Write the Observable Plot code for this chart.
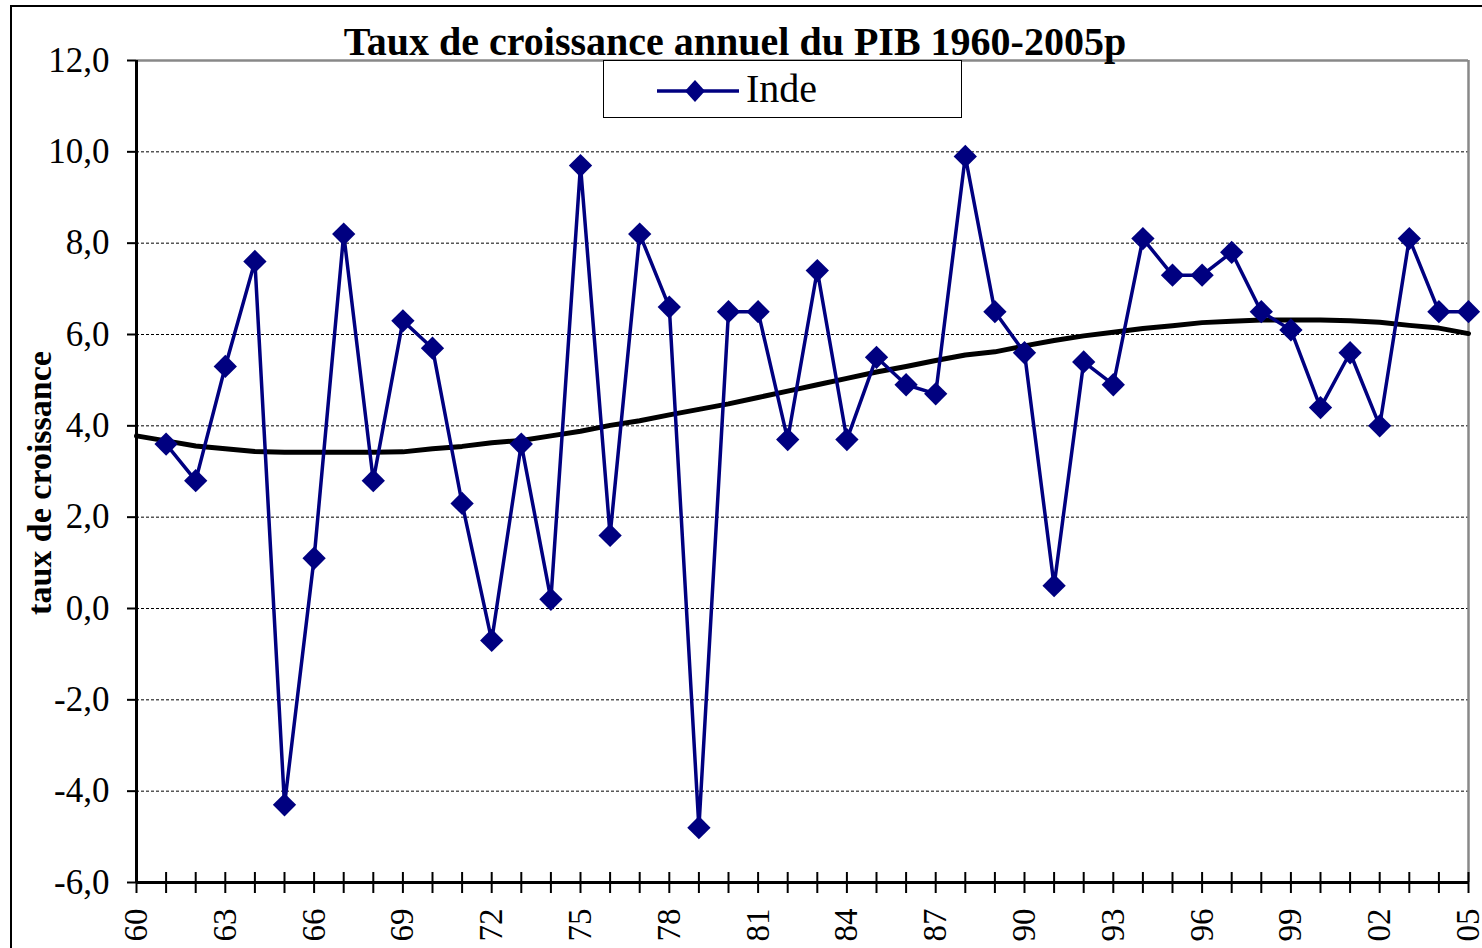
<!DOCTYPE html>
<html><head><meta charset="utf-8">
<script src="https://cdn.jsdelivr.net/npm/d3@7"></script>
<script src="https://cdn.jsdelivr.net/npm/@observablehq/plot@0.6"></script>
<style>
html,body{margin:0;padding:0;background:#fff;overflow:hidden}
#wrap{position:relative;width:1482px;height:948px}
#frame{position:absolute;left:10px;top:5px;width:1480px;height:960px;border:2px solid #000;box-sizing:border-box}
#title{position:absolute;left:0;width:1470px;text-align:center;top:18px;line-height:46px;font:bold 40px "Liberation Serif",serif;color:#000}
#legend{position:absolute;left:603px;top:60px;width:359px;height:58px;border:1.5px solid #000;box-sizing:border-box;background:#fff}
#legend svg{position:absolute;left:50px;top:15px}
#legend span{position:absolute;left:142px;top:4px;line-height:46px;font:40px "Liberation Serif",serif}
#ylab{position:absolute;left:40px;top:483px;transform:translate(-50%,-50%) rotate(-90deg);font:bold 34px "Liberation Serif",serif;white-space:nowrap}
#plot{position:absolute;left:0;top:0}
</style></head>
<body><div id="wrap"><div id="frame"></div><div id="plot"></div>
<div id="title">Taux de croissance annuel du PIB 1960-2005p</div>
<div id="legend"><svg width="90" height="30"><line x1="3" y1="15" x2="85" y2="15" stroke="#000080" stroke-width="3.5"/><path d="M41,4L51,15L41,26L31,15Z" fill="#000080"/></svg><span>Inde</span></div>
<div id="ylab">taux de croissance</div>
</div>
<script>
const years = d3.range(1960, 2006);
const indeYears = d3.range(1961, 2006);
const inde = [3.6, 2.8, 5.3, 7.6, -4.3, 1.1, 8.2, 2.8, 6.3, 5.7, 2.3, -0.7, 3.6, 0.2, 9.7, 1.6, 8.2, 6.6, -4.8, 6.5, 6.5, 3.7, 7.4, 3.7, 5.5, 4.9, 4.7, 9.9, 6.5, 5.6, 0.5, 5.4, 4.9, 8.1, 7.3, 7.3, 7.8, 6.5, 6.1, 4.4, 5.6, 4.0, 8.1, 6.5, 6.5];
const tendance = [3.78, 3.67, 3.56, 3.5, 3.44, 3.42, 3.42, 3.42, 3.42, 3.43, 3.5, 3.55, 3.63, 3.68, 3.78, 3.88, 4.01, 4.11, 4.24, 4.36, 4.48, 4.62, 4.76, 4.9, 5.04, 5.18, 5.3, 5.43, 5.55, 5.62, 5.75, 5.87, 5.97, 6.05, 6.13, 6.19, 6.26, 6.29, 6.32, 6.32, 6.32, 6.3, 6.27, 6.2, 6.14, 6.02];
const yTicks = [-6, -4, -2, 0, 2, 4, 6, 8, 10, 12];
const xLabelYears = [1960, 1963, 1966, 1969, 1972, 1975, 1978, 1981, 1984, 1987, 1990, 1993, 1996, 1999, 2002, 2005];

const indeData = indeYears.map((y, i) => ({year: y, value: inde[i]}));
const trendData = years.map((y, i) => ({year: y, value: tendance[i]}));
const fmt = d => d.toFixed(1).replace(".", ",");

const chart = Plot.plot({
  width: 1482, height: 948,
  marginLeft: 136, marginRight: 14, marginTop: 60, marginBottom: 66,
  x: {domain: [1960, 2005]},
  y: {domain: [-6, 12]},
  style: {fontFamily: "Liberation Serif, serif", fontSize: "33px", color: "#000", background: "transparent"},
  marks: [
    Plot.ruleY(yTicks.filter(t => t > -6 && t < 12), {stroke: "#000", strokeWidth: 1, strokeDasharray: "3,2"}),
    Plot.ruleY([12], {stroke: "#888", strokeWidth: 2.5}),
    Plot.ruleX([2005], {stroke: "#888", strokeWidth: 2.5}),
    Plot.axisY({ticks: yTicks, tickFormat: fmt, tickSize: 9, tickPadding: 18, fontSize: 35, label: null, strokeWidth: 2}),
    Plot.axisX({ticks: years, tickFormat: () => "", tickSize: 21, dy: -10, label: null, strokeWidth: 2}),
    Plot.axisX({ticks: xLabelYears, tickFormat: d => String(d).slice(2), tickSize: 0, tickPadding: 26, tickRotate: -90, label: null}),
    Plot.ruleX([1960], {stroke: "#000", strokeWidth: 3}),
    Plot.ruleY([-6], {stroke: "#000", strokeWidth: 3}),
    Plot.line(trendData, {x: "year", y: "value", stroke: "#000", strokeWidth: 5}),
    Plot.line(indeData, {x: "year", y: "value", stroke: "#000080", strokeWidth: 3.5}),
    Plot.dot(indeData, {x: "year", y: "value", symbol: "diamond2", r: 10.5, fill: "#000080", stroke: "none"})
  ]
});
document.getElementById("plot").appendChild(chart);
</script>
</body></html>
